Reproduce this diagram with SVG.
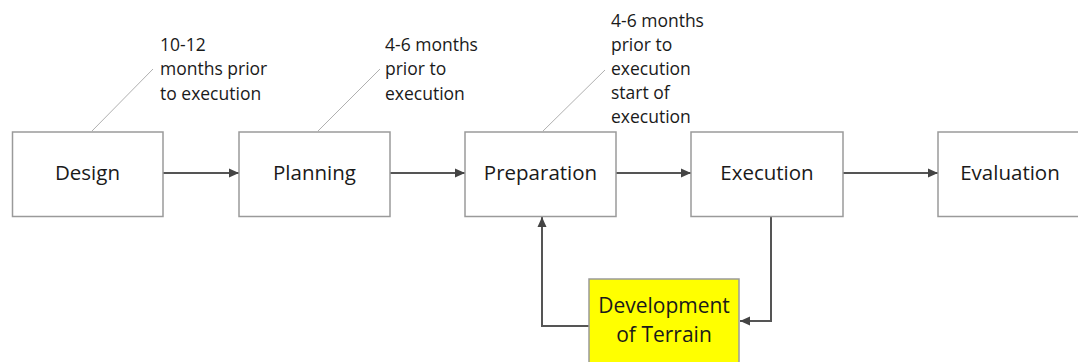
<svg xmlns="http://www.w3.org/2000/svg" width="1078" height="362" viewBox="0 0 1078 362">
<defs>
<style>
.box{fill:#fff;stroke:#9a9a9a;stroke-width:1.5}
.yel{fill:#ffff00;stroke:#9a9a9a;stroke-width:1.5}
.lbl{font-family:"Open Sans","Noto Sans",sans-serif;font-size:20.5px;fill:#1a1a1a;text-anchor:middle}
.big{font-size:21px}
.note{font-family:"Open Sans","Noto Sans",sans-serif;font-size:17.5px;fill:#1a1a1a}
.lead{stroke:#b0b0b0;stroke-width:1;fill:none}
.conn{stroke:#555;stroke-width:2;fill:none}
</style>
<marker id="ah" markerWidth="10" markerHeight="10" refX="10" refY="5" orient="auto" markerUnits="userSpaceOnUse">
<path d="M0,0.5 L10,5 L0,9.5 Z" fill="#444"/>
</marker>
</defs>
<rect width="1078" height="362" fill="#fff"/>
<g id="notes">
<line class="lead" x1="92" y1="131" x2="153" y2="69"/>
<line class="lead" x1="318" y1="131" x2="380" y2="69"/>
<line class="lead" x1="543" y1="131" x2="605" y2="70"/>
<text class="note" x="160" y="51">10-12</text>
<text class="note" x="160" y="75">months prior</text>
<text class="note" x="160" y="100">to execution</text>
<text class="note" x="385" y="51">4-6 months</text>
<text class="note" x="385" y="75">prior to</text>
<text class="note" x="385" y="100">execution</text>
<text class="note" x="611" y="27">4-6 months</text>
<text class="note" x="611" y="51">prior to</text>
<text class="note" x="611" y="75">execution</text>
<text class="note" x="611" y="99">start of</text>
<text class="note" x="611" y="123">execution</text>
</g>
<g id="connectors">
<line class="conn" x1="163" y1="173" x2="239" y2="173" marker-end="url(#ah)"/>
<line class="conn" x1="390" y1="173" x2="465" y2="173" marker-end="url(#ah)"/>
<line class="conn" x1="616" y1="173" x2="691" y2="173" marker-end="url(#ah)"/>
<line class="conn" x1="843" y1="173" x2="938" y2="173" marker-end="url(#ah)"/>
<polyline class="conn" points="771,217 771,321 740,321" marker-end="url(#ah)"/>
<polyline class="conn" points="589,326 542,326 542,217" marker-end="url(#ah)"/>
</g>
<g id="design">
<rect class="box" x="12.5" y="132" width="150.5" height="84.5"/>
<text class="lbl" x="87.5" y="180">Design</text>
</g>
<g id="planning">
<rect class="box" x="239" y="132" width="151" height="84.5"/>
<text class="lbl" x="314.5" y="180">Planning</text>
</g>
<g id="preparation">
<rect class="box" x="465" y="132" width="151" height="84.5"/>
<text class="lbl" x="540.5" y="180">Preparation</text>
</g>
<g id="execution">
<rect class="box" x="691" y="132" width="152" height="84.5"/>
<text class="lbl" x="767" y="180">Execution</text>
</g>
<g id="evaluation">
<rect class="box" x="938" y="132" width="160" height="84.5"/>
<text class="lbl" x="1010" y="180">Evaluation</text>
</g>
<g id="terrain">
<rect class="yel" x="589" y="279" width="150" height="100"/>
<text class="lbl big" x="664" y="313">Development</text>
<text class="lbl big" x="664" y="342">of Terrain</text>
</g>
</svg>
